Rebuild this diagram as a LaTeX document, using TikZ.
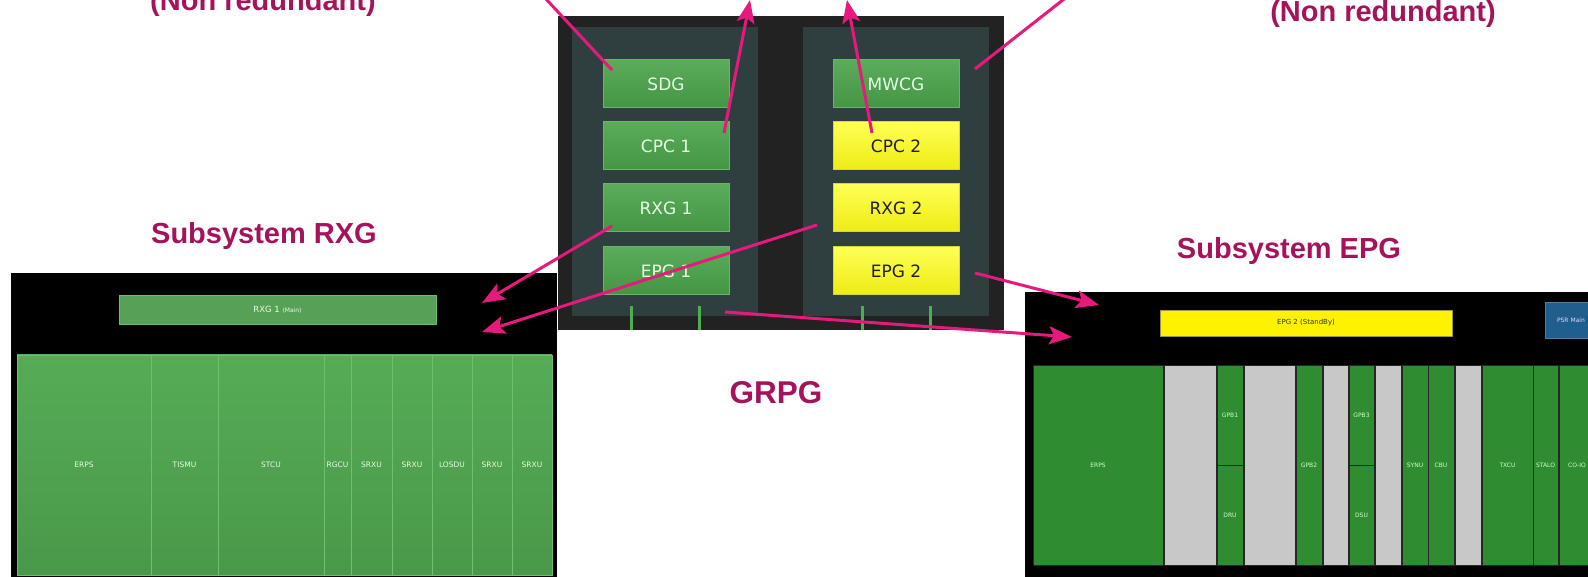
\documentclass[tikz,border=0pt]{standalone}
\usepackage{fontspec}
\setmainfont{Liberation Sans}
\newfontfamily\guifont{DejaVu Sans}
\usetikzlibrary{arrows.meta}
\definecolor{labmag}{RGB}{165,20,90}
\definecolor{arrpink}{RGB}{230,25,125}
\definecolor{grpgbg}{RGB}{34,34,34}
\definecolor{slotbg}{RGB}{47,62,62}
\definecolor{okhi}{RGB}{90,172,90}
\definecolor{oklo}{RGB}{68,150,68}
\definecolor{okline}{RGB}{104,182,104}
\definecolor{sbhi}{RGB}{255,255,85}
\definecolor{sblo}{RGB}{236,236,20}
\definecolor{sbline}{RGB}{215,215,60}
\definecolor{legsgrn}{RGB}{76,175,80}
\definecolor{rxgtop}{RGB}{86,172,86}
\definecolor{rxgbot}{RGB}{74,152,74}
\definecolor{rxgline}{RGB}{112,190,112}
\definecolor{epgmod}{RGB}{48,140,48}
\definecolor{idlegrey}{RGB}{200,200,200}
\definecolor{psrblue}{RGB}{32,94,142}

\begin{document}
\begin{tikzpicture}[x=1pt,y=-1pt,line join=round,
  guibox/.style={anchor=north west,inner sep=0pt,outer sep=0pt,minimum width=126pt,minimum height=48pt,line width=1pt,font=\guifont\fontsize{17}{20}\selectfont},
  okbox/.style={guibox,draw=okline,top color=okhi,bottom color=oklo,text=white!90!green},
  sbbox/.style={guibox,draw=sbline,top color=sbhi,bottom color=sblo,text=black!88},
  rxgcell/.style={anchor=north west,inner sep=0pt,outer sep=0pt,minimum height=220pt,draw=rxgline,line width=0.6pt,top color=rxgtop,bottom color=rxgbot,text=white!88!green,font=\guifont\fontsize{7.5}{8}\selectfont},
  epgcell/.style={anchor=north west,inner sep=0pt,outer sep=0pt,minimum height=200pt,draw=black!85,line width=1pt,fill=epgmod,text=white!80!green,font=\guifont\fontsize{6}{7}\selectfont},
  idlecell/.style={epgcell,fill=idlegrey},
  halfcell/.style={epgcell,minimum height=100pt},
  title/.style={text=labmag,font=\bfseries\fontsize{29}{34}\selectfont,anchor=base,inner sep=0pt},
  conn/.style={arrpink,line width=3pt,-{Stealth[length=23pt,width=18pt,inset=5pt]}},
  link/.style={arrpink,line width=3pt}]
\useasboundingbox (0,0) rectangle (1588,577);
% panels
\fill[black] (11,273) rectangle (557,577);
\fill[black] (1025,292) rectangle (1600,577);
\fill[grpgbg] (558,16) rectangle (1004,330);
\fill[slotbg] (572,27) rectangle (758,316);
\fill[slotbg] (803,27) rectangle (989,316);
\fill[legsgrn] (629.5,306) rectangle (633,330);
\fill[legsgrn] (697.5,306) rectangle (701,330);
\fill[legsgrn] (860.5,306) rectangle (864,330);
\fill[legsgrn] (928.5,306) rectangle (932,330);
% GRPG boxes
\node[okbox] (sdg) at (603,60) {SDG};
\node[okbox] (cpc1) at (603,122) {CPC 1};
\node[okbox] (rxg1) at (603,184) {RXG 1};
\node[okbox] (epg1) at (603,247) {EPG 1};
\node[okbox] (mwcg) at (833,60) {MWCG};
\node[sbbox] (cpc2) at (833,122) {CPC 2};
\node[sbbox] (rxg2) at (833,184) {RXG 2};
\node[sbbox] (epg2) at (833,247) {EPG 2};
% subsystem RXG
\node[anchor=north west,inner sep=0pt,outer sep=0pt,minimum width=317pt,minimum height=29pt,draw=rxgline,fill=oklo!90!white,line width=0.8pt,text=white!90!green] (rxgbar) at (119,295) {\guifont\fontsize{8.5}{9}\selectfont RXG 1 {\fontsize{6}{7}\selectfont(Main)}};
\node[rxgcell,minimum width=134pt] (erpsA) at (17,355) {ERPS};
\node[rxgcell,minimum width=67pt] (tismu) at (151,355) {TISMU};
\node[rxgcell,minimum width=106pt] (stcu) at (218,355) {STCU};
\node[rxgcell,minimum width=27pt] (rgcu) at (324,355) {RGCU};
\node[rxgcell,minimum width=41pt] (srxuA) at (351,355) {SRXU};
\node[rxgcell,minimum width=40pt] (srxuB) at (392,355) {SRXU};
\node[rxgcell,minimum width=40pt] (losdu) at (432,355) {LOSDU};
\node[rxgcell,minimum width=40pt] (srxuC) at (472,355) {SRXU};
\node[rxgcell,minimum width=40pt] (srxuD) at (512,355) {SRXU};
% subsystem EPG
\node[anchor=north west,inner sep=0pt,outer sep=0pt,minimum width=292pt,minimum height=26pt,draw=yellow!55!black,fill=yellow,line width=0.8pt,text=black!80,font=\guifont\fontsize{7}{8}\selectfont] (epgbar) at (1160,310) {EPG 2 (StandBy)};
\node[anchor=north west,inner sep=0pt,outer sep=0pt,inner xsep=12pt,text width=60pt,align=left,minimum height=36pt,draw=psrblue!80!white,fill=psrblue,line width=0.8pt,text=white!85!blue,font=\guifont\fontsize{6}{7}\selectfont] (psrbox) at (1545,302) {PSR Main};
\node[epgcell,minimum width=130pt] (erpsB) at (1033,365) {ERPS};
\node[idlecell,minimum width=52pt] (idleA) at (1164,365) {};
\node[halfcell,minimum width=26pt] (gpb1) at (1217,365) {GPB1};
\node[halfcell,minimum width=26pt] (dru) at (1217,465) {DRU};
\node[idlecell,minimum width=51pt] (idleB) at (1244,365) {};
\node[epgcell,minimum width=26pt] (gpb2) at (1296,365) {GPB2};
\node[idlecell,minimum width=25pt] (idleC) at (1323,365) {};
\node[halfcell,minimum width=25pt] (gpb3) at (1349,365) {GPB3};
\node[halfcell,minimum width=25pt] (dsu) at (1349,465) {DSU};
\node[idlecell,minimum width=26pt] (idleD) at (1375,365) {};
\node[epgcell,minimum width=26pt] (synu) at (1402,365) {SYNU};
\node[epgcell,minimum width=26pt] (cbu) at (1428,365) {CBU};
\node[idlecell,minimum width=26pt] (idleE) at (1455,365) {};
\node[epgcell,minimum width=51pt] (txcu) at (1482,365) {TXCU};
\node[epgcell,minimum width=25pt] (stalo) at (1533,365) {STALO};
\node[epgcell,minimum width=36pt] (coio) at (1559,365) {CO-IO};
% titles
\node[title] (nonredL) at (263,11) {(Non redundant)};
\node[title] (nonredR) at (1383,22) {(Non redundant)};
\node[title] (subrxg) at (264,244) {Subsystem RXG};
\node[title] (subepg) at (1289,259) {Subsystem EPG};
\node[title,font=\bfseries\fontsize{31.5}{36}\selectfont] (grpgtag) at (776,403) {GRPG};
% pointers
\coordinate (sdgtag) at (519,-30);
\coordinate (mwcgtag) at (1101,-30);
\coordinate (cpc1tag) at (750,0);
\coordinate (cpc2tag) at (847,0);
\coordinate (rxgtopin) at (482,303);
\coordinate (rxgmidin) at (482,332);
\coordinate (epgtopin) at (1099,305);
\coordinate (epgmidin) at (1072,337);
\draw[link] ([xshift=9pt,yshift=-10pt]sdg.north west) -- (sdgtag);
\draw[link] ([xshift=16pt,yshift=-9pt]mwcg.north east) -- (mwcgtag);
\draw[conn] ([xshift=-5pt,yshift=-11pt]cpc1.north east) -- (cpc1tag);
\draw[conn] ([xshift=39pt,yshift=-11pt]cpc2.north west) -- (cpc2tag);
\draw[conn] ([xshift=9pt,yshift=6pt]rxg1.south west) -- (rxgtopin);
\draw[conn] ([xshift=-16pt,yshift=7pt]rxg2.south west) -- (rxgmidin);
\draw[conn] ([xshift=16pt,yshift=-2pt]epg2.east) -- (epgtopin);
\draw[conn] ([xshift=-4pt,yshift=-17pt]epg1.south east) -- (epgmidin);
\end{tikzpicture}
\end{document}
